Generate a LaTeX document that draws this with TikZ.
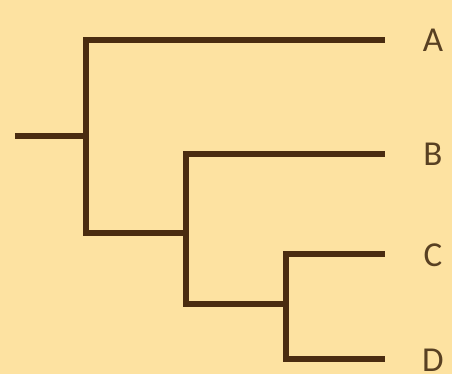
\documentclass[tikz,border=0pt]{standalone}
\usepackage{fontspec}
\setmainfont{Carlito}
\usetikzlibrary{positioning}
\definecolor{paper}{HTML}{FDE2A1}
\definecolor{branchCol}{HTML}{4A2C10}
\definecolor{tipText}{HTML}{584022}
\tikzset{
  branch/.style={draw=branchCol, line width=2.9pt, line join=miter},
  taxon/.style={font=\fontsize{17.5}{17.5}\selectfont, text=tipText, inner sep=0pt},
}
\begin{document}
\begin{tikzpicture}[x=0.5pt, y=0.5pt]

  % background
  \fill[paper] (0,0) rectangle (452,374);
  \useasboundingbox (0,0) rectangle (452,374);

  % internal nodes
  \coordinate (r0) at (15,238);
  \coordinate (n1) at (86,238);
  \coordinate (n2) at (186,141);
  \coordinate (n3) at (286,70);

  % tips
  \coordinate (tA) at (385,334);
  \coordinate (tB) at (385,220);
  \coordinate (tC) at (385,120);
  \coordinate (tD) at (385,15);

  % labels
  \node[taxon] (A) at (433,334) {A};
  \node[taxon] (B) at (433,220) {B};
  \node[taxon] (C) at (433,119) {C};
  \node[taxon] (D) at (433,14) {D};

  % branches
  \draw[branch] (r0) -- (n1);
  \draw[branch] (n1) |- (tA);
  \draw[branch] (n1) |- (n2);
  \draw[branch] (n2) |- (tB);
  \draw[branch] (n2) |- (n3);
  \draw[branch] (n3) |- (tC);
  \draw[branch] (n3) |- (tD);

\end{tikzpicture}
\end{document}
